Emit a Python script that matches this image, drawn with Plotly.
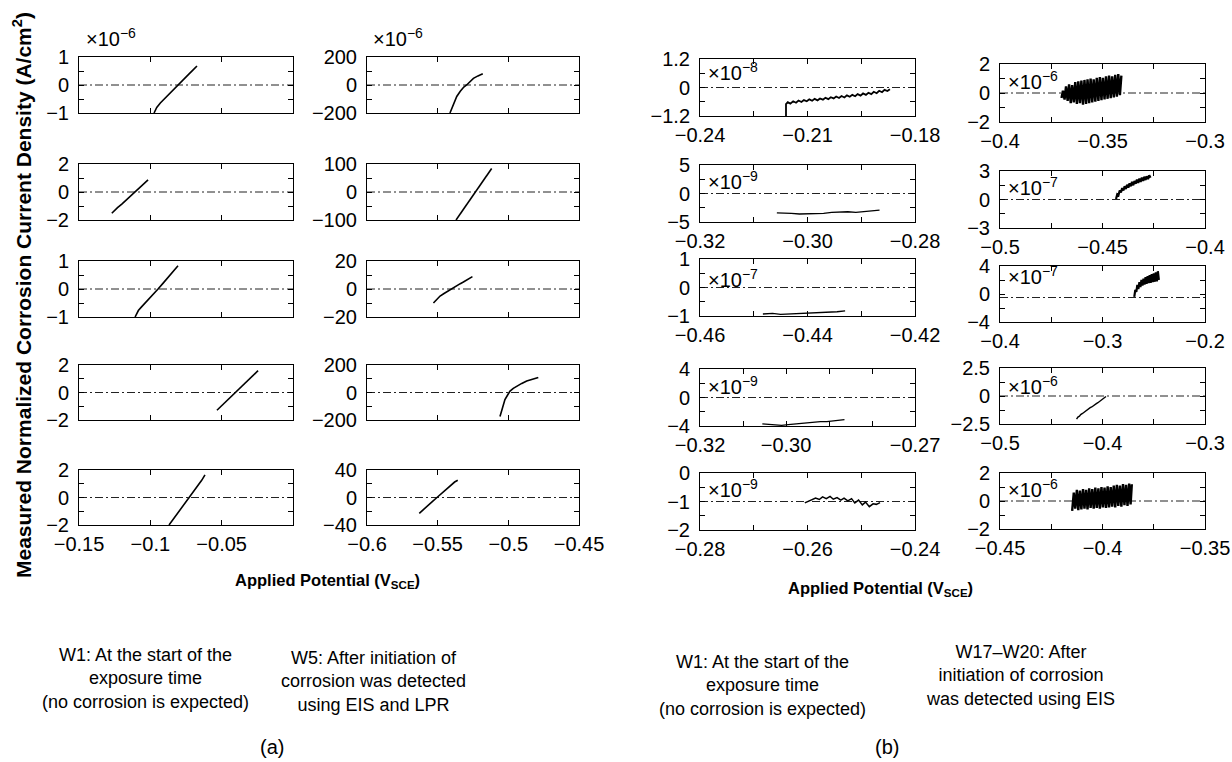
import plotly.graph_objects as go

W, H = 1232, 762
FONT = "Liberation Sans, Arial, Helvetica, sans-serif"
M = "\u2212"

# ---------------- (a) column W1 : potential (V) / current density (x1e-6 A/cm2) ----------------
a_w1_r1_x = [-0.0974, -0.0955, -0.0930, -0.0900, -0.0870, -0.0840, -0.0806, -0.0770, -0.0730, -0.0700, -0.0673]
a_w1_r1_y = [-1.00, -0.80, -0.64, -0.48, -0.33, -0.17, 0.00, 0.18, 0.39, 0.54, 0.68]
a_w1_r2_x = [-0.1270, -0.1255, -0.1230, -0.1200, -0.1170, -0.1140, -0.1110, -0.1080, -0.1050, -0.1016]
a_w1_r2_y = [-1.52, -1.36, -1.12, -0.86, -0.58, -0.29, 0.00, 0.27, 0.56, 0.86]
a_w1_r3_x = [-0.1107, -0.1095, -0.1084, -0.1060, -0.1030, -0.1000, -0.0970, -0.0946, -0.0910, -0.0880, -0.0850, -0.0806]
a_w1_r3_y = [-1.00, -0.86, -0.77, -0.63, -0.47, -0.30, -0.13, 0.00, 0.21, 0.39, 0.57, 0.83]
a_w1_r4_x = [-0.0533, -0.0500, -0.0470, -0.0440, -0.0407, -0.0370, -0.0340, -0.0310, -0.0280, -0.0245]
a_w1_r4_y = [-1.29, -0.96, -0.66, -0.36, -0.03, 0.34, 0.64, 0.94, 1.24, 1.59]
a_w1_r5_x = [-0.0869, -0.0840, -0.0810, -0.0780, -0.0750, -0.0726, -0.0700, -0.0670, -0.0640, -0.0617]
a_w1_r5_y = [-2.00, -1.59, -1.16, -0.72, -0.29, 0.00, 0.38, 0.81, 1.25, 1.65]

# ---------------- (a) column W5 ----------------
a_w5_r1_x = [-0.5413, -0.5395, -0.5380, -0.5365, -0.5340, -0.5315, -0.5295, -0.5270, -0.5247, -0.5215, -0.5181]
a_w5_r1_y = [-200, -160, -120, -82, -45, -15, 0, 25, 47, 65, 80]
a_w5_r2_x = [-0.5370, -0.5340, -0.5310, -0.5280, -0.5250, -0.5234, -0.5200, -0.5170, -0.5140, -0.5118]
a_w5_r2_y = [-100, -78, -56, -34, -12, 0, 25, 47, 69, 84]
a_w5_r3_x = [-0.5530, -0.5505, -0.5483, -0.5455, -0.5430, -0.5400, -0.5370, -0.5340, -0.5318, -0.5285, -0.5254]
a_w5_r3_y = [-10.0, -7.3, -5.0, -3.2, -1.6, 0.5, 2.1, 3.8, 5.0, 6.8, 8.8]
a_w5_r4_x = [-0.5059, -0.5047, -0.5035, -0.5024, -0.5005, -0.4988, -0.4965, -0.4941, -0.4905, -0.4870, -0.4830, -0.4788]
a_w5_r4_y = [-175, -126, -88, -52, -18, 10, 30, 47, 66, 84, 97, 109]
a_w5_r5_x = [-0.5630, -0.5600, -0.5570, -0.5540, -0.5505, -0.5470, -0.5440, -0.5410, -0.5380, -0.5358]
a_w5_r5_y = [-23, -17, -11.7, -6.3, 0, 6.3, 11.7, 17.1, 22.5, 25]

# ---------------- (b) column W1 ----------------
b_w1_r1_x = [-0.2160, -0.2160, -0.2155, -0.2148, -0.2140, -0.2132, -0.2125, -0.2117, -0.2110, -0.2102, -0.2095,
             -0.2087, -0.2080, -0.2072, -0.2065, -0.2057, -0.2050, -0.2042, -0.2035, -0.2027, -0.2020, -0.2012,
             -0.2005, -0.1997, -0.1990, -0.1982, -0.1975, -0.1967, -0.1960, -0.1952, -0.1945, -0.1937, -0.1930,
             -0.1922, -0.1915, -0.1907, -0.1900, -0.1892, -0.1885, -0.1877, -0.1870]
b_w1_r1_y = [-1.20, -0.70, -0.62, -0.68, -0.58, -0.64, -0.55, -0.61, -0.53, -0.58, -0.50,
             -0.56, -0.48, -0.54, -0.46, -0.51, -0.43, -0.49, -0.41, -0.46, -0.38, -0.44,
             -0.36, -0.42, -0.33, -0.39, -0.31, -0.37, -0.28, -0.34, -0.25, -0.31, -0.22,
             -0.28, -0.18, -0.24, -0.14, -0.20, -0.10, -0.15, -0.07]
b_w1_r2_x = [-0.3057, -0.3045, -0.3030, -0.3015, -0.3000, -0.2985, -0.2970, -0.2955, -0.2940, -0.2925, -0.2910, -0.2895, -0.2880, -0.2866]
b_w1_r2_y = [-3.4, -3.5, -3.5, -3.6, -3.6, -3.6, -3.5, -3.3, -3.2, -3.2, -3.3, -3.2, -3.1, -2.9]
b_w1_r3_x = [-0.4483, -0.4465, -0.4450, -0.4435, -0.4420, -0.4405, -0.4390, -0.4375, -0.4360, -0.4345, -0.4330]
b_w1_r3_y = [-0.93, -0.91, -0.94, -0.93, -0.92, -0.90, -0.88, -0.89, -0.86, -0.85, -0.82]
b_w1_r4_x = [-0.3055, -0.3040, -0.3025, -0.3010, -0.2995, -0.2980, -0.2965, -0.2950, -0.2935, -0.2920, -0.2905, -0.2890, -0.2875, -0.2864]
b_w1_r4_y = [-3.7, -3.8, -3.8, -3.9, -3.8, -3.7, -3.6, -3.5, -3.5, -3.4, -3.4, -3.3, -3.2, -3.1]
b_w1_r5_x = [-0.2605, -0.2598, -0.2592, -0.2585, -0.2578, -0.2572, -0.2565, -0.2558, -0.2552, -0.2545, -0.2538,
             -0.2532, -0.2525, -0.2518, -0.2512, -0.2505, -0.2498, -0.2492, -0.2485, -0.2478, -0.2472, -0.2465]
b_w1_r5_y = [-1.05, -1.00, -0.95, -0.88, -0.93, -0.84, -0.90, -0.82, -0.92, -0.86, -0.95,
             -0.88, -0.98, -0.90, -1.05, -0.95, -1.12, -1.02, -1.18, -1.08, -1.10, -1.04]

# ---------------- (b) column W17-W20 ----------------
b_w17_r1_x = [-0.3700, -0.3693, -0.3685, -0.3678, -0.3670, -0.3663, -0.3655, -0.3648, -0.3640, -0.3633,
              -0.3625, -0.3618, -0.3610, -0.3603, -0.3595, -0.3588, -0.3580, -0.3573, -0.3565, -0.3558,
              -0.3550, -0.3543, -0.3535, -0.3528, -0.3520, -0.3513, -0.3505, -0.3498, -0.3490, -0.3483,
              -0.3475, -0.3468, -0.3460, -0.3453, -0.3445, -0.3438, -0.3430, -0.3423, -0.3415, -0.3408]
b_w17_r1_y = [-0.35, 0.15, -0.45, 0.45, -0.55, 0.60, -0.70, 0.55, -0.65, 0.75,
              -0.75, 0.80, -0.70, 0.85, -0.80, 0.90, -0.75, 0.95, -0.70, 1.00,
              -0.65, 0.95, -0.60, 1.05, -0.55, 1.10, -0.50, 1.05, -0.45, 1.15,
              -0.40, 1.20, -0.35, 1.15, -0.30, 1.25, -0.25, 1.30, -0.15, 1.20]
b_w17_r2_x = [-0.4434, -0.4428, -0.4422, -0.4416, -0.4410, -0.4404, -0.4398, -0.4392, -0.4386, -0.4380,
              -0.4374, -0.4368, -0.4362, -0.4356, -0.4350, -0.4344, -0.4338, -0.4332, -0.4326, -0.4320,
              -0.4314, -0.4308, -0.4302, -0.4296, -0.4290, -0.4284, -0.4278, -0.4272, -0.4266]
b_w17_r2_y = [0.05, 0.55, 0.45, 0.95, 0.75, 1.20, 0.95, 1.40, 1.10, 1.55,
              1.25, 1.70, 1.40, 1.85, 1.50, 1.95, 1.65, 2.10, 1.75, 2.20,
              1.85, 2.30, 1.95, 2.40, 2.05, 2.45, 2.15, 2.55, 2.30]
b_w17_r3_x = [-0.2690, -0.2680, -0.2670, -0.2660, -0.2650, -0.2640, -0.2630, -0.2620, -0.2610, -0.2600,
              -0.2590, -0.2580, -0.2570, -0.2560, -0.2550, -0.2540, -0.2530, -0.2520, -0.2510, -0.2500,
              -0.2490, -0.2480, -0.2470, -0.2460, -0.2450]
b_w17_r3_y = [-0.40, 0.60, 0.30, 1.30, 0.70, 1.70, 1.00, 2.00, 1.20, 2.20,
              1.35, 2.40, 1.45, 2.55, 1.55, 2.70, 1.60, 2.85, 1.70, 2.95,
              1.75, 3.10, 1.80, 3.25, 2.00]
b_w17_r4_x = [-0.4253, -0.4240, -0.4225, -0.4213, -0.4195, -0.4180, -0.4165, -0.4151, -0.4135, -0.4120,
              -0.4105, -0.4090, -0.4075, -0.4060, -0.4045, -0.4028, -0.4010, -0.3995, -0.3980, -0.3966]
b_w17_r4_y = [-2.06, -1.88, -1.80, -1.66, -1.56, -1.44, -1.36, -1.22, -1.16, -1.04,
              -0.98, -0.86, -0.80, -0.68, -0.60, -0.48, -0.38, -0.26, -0.16, -0.04]
b_w17_r5_x = [-0.4148, -0.4140, -0.4133, -0.4125, -0.4118, -0.4110, -0.4103, -0.4095, -0.4088, -0.4080,
              -0.4073, -0.4065, -0.4058, -0.4050, -0.4043, -0.4035, -0.4028, -0.4020, -0.4013, -0.4005,
              -0.3998, -0.3990, -0.3983, -0.3975, -0.3968, -0.3960, -0.3953, -0.3945, -0.3938, -0.3930,
              -0.3923, -0.3915, -0.3908, -0.3900, -0.3893, -0.3885, -0.3878, -0.3870, -0.3863, -0.3857]
b_w17_r5_y = [-0.70, 0.60, -0.55, 0.80, -0.65, 0.75, -0.60, 0.85, -0.55, 0.80,
              -0.60, 0.90, -0.50, 0.85, -0.55, 0.95, -0.50, 0.90, -0.55, 1.00,
              -0.45, 0.95, -0.50, 1.05, -0.45, 1.00, -0.40, 1.10, -0.45, 1.15,
              -0.35, 1.10, -0.40, 1.20, -0.30, 1.15, -0.35, 1.25, -0.25, 1.20]

# ---------------- axis ranges / ticks ----------------
a1_xticks = [-0.15, -0.1, -0.05, 0.0]
a1_xlabels = [M + "0.15", M + "0.1", M + "0.05", ""]
a2_xticks = [-0.6, -0.55, -0.5, -0.45]
a2_xlabels = [M + "0.6", M + "0.55", M + "0.5", M + "0.45"]
b1_xticks = [[-0.24, -0.225, -0.21, -0.195, -0.18],
             [-0.32, -0.31, -0.30, -0.29, -0.28],
             [-0.46, -0.45, -0.44, -0.43, -0.42],
             [-0.32, -0.31, -0.30, -0.29, -0.28, -0.27],
             [-0.28, -0.27, -0.26, -0.25, -0.24]]
b1_xlabels = [[M + "0.24", "", M + "0.21", "", M + "0.18"],
              [M + "0.32", "", M + "0.30", "", M + "0.28"],
              [M + "0.46", "", M + "0.44", "", M + "0.42"],
              [M + "0.32", "", M + "0.30", "", "", M + "0.27"],
              [M + "0.28", "", M + "0.26", "", M + "0.24"]]
b2_xticks = [[-0.4, -0.375, -0.35, -0.325, -0.3],
             [-0.5, -0.475, -0.45, -0.425, -0.4],
             [-0.4, -0.35, -0.3, -0.25, -0.2],
             [-0.5, -0.45, -0.4, -0.35, -0.3],
             [-0.45, -0.425, -0.4, -0.375, -0.35]]
b2_xlabels = [[M + "0.4", "", M + "0.35", "", M + "0.3"],
              [M + "0.5", "", M + "0.45", "", M + "0.4"],
              [M + "0.4", "", M + "0.3", "", M + "0.2"],
              [M + "0.5", "", M + "0.4", "", M + "0.3"],
              [M + "0.45", "", M + "0.4", "", M + "0.35"]]

a1_ylim = [1, 2, 1, 2, 2]
a2_ylim = [200, 100, 20, 200, 40]
b1_ylim = [1.2, 5, 1, 4, None]
b2_ylim = [2, 3, 4, 2.5, 2]
b1_exps = ["8", "9", "7", "9", "9"]
b2_exps = ["6", "7", "7", "6", "6"]

# ---------------- layout geometry (pixels) ----------------
COL_A1 = (79, 293)
COL_A2 = (367, 579)
COL_B1 = (700, 915)
COL_B2 = (1000, 1205)
ROWS_A = [(57, 113), (164, 220), (261, 317), (365, 420), (470, 525)]
ROWS_B1 = [(59, 116), (165, 222), (259, 316), (369, 426), (473, 530)]
ROWS_B2 = [(64, 122), (171, 228), (266, 322), (368, 424), (473, 529)]
EXP_OFF_B1 = [12, 15, 19, 16, 15]
EXP_OFF_B2 = [16, 15, 9, 17, 15]


def lab(v):
    s = ("%g" % abs(v))
    return (M + s) if v < 0 else s


def sym_ticks(lim):
    vals = [-lim, -lim / 2, 0, lim / 2, lim]
    return vals, [lab(-lim), "", "0", "", lab(lim)]


panels = []
a1_data = [(a_w1_r1_x, a_w1_r1_y), (a_w1_r2_x, a_w1_r2_y), (a_w1_r3_x, a_w1_r3_y),
           (a_w1_r4_x, a_w1_r4_y), (a_w1_r5_x, a_w1_r5_y)]
a2_data = [(a_w5_r1_x, a_w5_r1_y), (a_w5_r2_x, a_w5_r2_y), (a_w5_r3_x, a_w5_r3_y),
           (a_w5_r4_x, a_w5_r4_y), (a_w5_r5_x, a_w5_r5_y)]
b1_data = [(b_w1_r1_x, b_w1_r1_y), (b_w1_r2_x, b_w1_r2_y), (b_w1_r3_x, b_w1_r3_y),
           (b_w1_r4_x, b_w1_r4_y), (b_w1_r5_x, b_w1_r5_y)]
b2_data = [(b_w17_r1_x, b_w17_r1_y), (b_w17_r2_x, b_w17_r2_y), (b_w17_r3_x, b_w17_r3_y),
           (b_w17_r4_x, b_w17_r4_y), (b_w17_r5_x, b_w17_r5_y)]
b1_lw = [1.8, 1.3, 1.3, 1.3, 1.5]
b2_lw = [2.4, 2.2, 2.2, 1.4, 2.4]

for r in range(5):
    yv, yt = sym_ticks(a1_ylim[r])
    panels.append(dict(d=a1_data[r], col=COL_A1, row=ROWS_A[r], xr=[-0.15, 0.0], xv=a1_xticks,
                       xt=a1_xlabels if r == 4 else [""] * 4, yr=[-a1_ylim[r], a1_ylim[r]], yv=yv, yt=yt,
                       ref=0, lw=1.6, exp=None))
for r in range(5):
    yv, yt = sym_ticks(a2_ylim[r])
    panels.append(dict(d=a2_data[r], col=COL_A2, row=ROWS_A[r], xr=[-0.6, -0.45], xv=a2_xticks,
                       xt=a2_xlabels if r == 4 else [""] * 4, yr=[-a2_ylim[r], a2_ylim[r]], yv=yv, yt=yt,
                       ref=0, lw=1.6, exp=None))
for r in range(5):
    if b1_ylim[r] is None:
        yv, yt, yr, ref = [-2, -1.5, -1, -0.5, 0], [M + "2", "", M + "1", "", "0"], [-2, 0], -1
    else:
        yv, yt = sym_ticks(b1_ylim[r])
        yr, ref = [-b1_ylim[r], b1_ylim[r]], 0
    xt = b1_xticks[r]
    panels.append(dict(d=b1_data[r], col=COL_B1, row=ROWS_B1[r], xr=[xt[0], xt[-1]], xv=xt,
                       xt=b1_xlabels[r], yr=yr, yv=yv, yt=yt, ref=ref, lw=b1_lw[r],
                       exp=(b1_exps[r], EXP_OFF_B1[r])))
for r in range(5):
    yv, yt = sym_ticks(b2_ylim[r])
    xt = b2_xticks[r]
    panels.append(dict(d=b2_data[r], col=COL_B2, row=ROWS_B2[r], xr=[xt[0], xt[-1]], xv=xt,
                       xt=b2_xlabels[r], yr=[-b2_ylim[r], b2_ylim[r]], yv=yv, yt=yt,
                       ref=-0.5 if r == 2 else 0, lw=b2_lw[r], exp=(b2_exps[r], EXP_OFF_B2[r])))

fig = go.Figure()
lay = {}
annotations = []
tickfont = dict(family=FONT, size=20, color="black")

for i, p in enumerate(panels, start=1):
    sfx = "" if i == 1 else str(i)
    xa, ya = "x" + sfx, "y" + sfx
    fig.add_trace(go.Scatter(x=p["xr"], y=[p["ref"], p["ref"]], mode="lines",
                             line=dict(color="#222222", width=1, dash="8px,3px,2px,3px"),
                             xaxis=xa, yaxis=ya, showlegend=False, hoverinfo="skip"))
    x, y = p["d"]
    fig.add_trace(go.Scatter(x=x, y=y, mode="lines", line=dict(color="black", width=p["lw"]),
                             xaxis=xa, yaxis=ya, showlegend=False))
    c0, c1 = p["col"]
    r0, r1 = p["row"]
    common = dict(ticks="inside", ticklen=5, tickcolor="black", tickwidth=1, showline=True,
                  linecolor="black", linewidth=1, mirror="ticks", showgrid=False, zeroline=False,
                  tickfont=tickfont, tickmode="array", fixedrange=True, automargin=False,
                  ticklabeloverflow="allow")
    lay["xaxis" + sfx] = dict(domain=[c0 / W, c1 / W], anchor=ya, range=p["xr"], tickvals=p["xv"],
                              ticktext=p["xt"], ticklabelstandoff=1, **common)
    lay["yaxis" + sfx] = dict(domain=[1 - r1 / H, 1 - r0 / H], anchor=xa, range=p["yr"], tickvals=p["yv"],
                              ticktext=p["yt"], ticklabelstandoff=5, **common)
    if p["exp"] is not None:
        e, off = p["exp"]
        annotations.append(dict(xref="paper", yref="paper", x=(c0 + 6) / W, y=1 - (r0 + off) / H,
                                xanchor="left", yanchor="middle", showarrow=False,
                                text="\u00d710<sup>" + M + e + "</sup>", font=tickfont))

# exponent labels above column (a)
for cx in (COL_A1[0] + 5, COL_A2[0] + 4):
    annotations.append(dict(xref="paper", yref="paper", x=cx / W, y=1 - 38 / H, xanchor="left",
                            yanchor="middle", showarrow=False, text="\u00d710<sup>" + M + "6</sup>",
                            font=tickfont))

bold = dict(family=FONT, size=16.5, color="black")
annotations.append(dict(xref="paper", yref="paper", x=22 / W, y=1 - 295 / H, textangle=-90,
                        showarrow=False, xanchor="center", yanchor="middle",
                        text="<b>Measured Normalized Corrosion Current Density (A/cm<sup>2</sup>)</b>",
                        font=dict(family=FONT, size=21, color="black")))
annotations.append(dict(xref="paper", yref="paper", x=327 / W, y=1 - 581 / H, showarrow=False,
                        xanchor="center", yanchor="middle",
                        text="<b>Applied Potential (V<sub>SCE</sub>)</b>", font=bold))
annotations.append(dict(xref="paper", yref="paper", x=880 / W, y=1 - 589 / H, showarrow=False,
                        xanchor="center", yanchor="middle",
                        text="<b>Applied Potential (V<sub>SCE</sub>)</b>", font=bold))

cap = dict(family=FONT, size=18, color="black")
captions = [
    (145, 678, "W1: At the start of the<br>exposure time<br>(no corrosion is expected)"),
    (373, 681, "W5: After initiation of<br>corrosion was detected<br>using EIS and LPR"),
    (762, 685, "W1: At the start of the<br>exposure time<br>(no corrosion is expected)"),
    (1020, 675, "W17\u2013W20: After<br>initiation of corrosion<br>was detected using EIS"),
]
for cx, cy, t in captions:
    annotations.append(dict(xref="paper", yref="paper", x=cx / W, y=1 - cy / H, showarrow=False,
                            xanchor="center", yanchor="middle", align="center", text=t, font=cap))
annotations.append(dict(xref="paper", yref="paper", x=272 / W, y=1 - 747 / H, showarrow=False,
                        xanchor="center", yanchor="middle", text="(a)", font=dict(family=FONT, size=20)))
annotations.append(dict(xref="paper", yref="paper", x=887 / W, y=1 - 747 / H, showarrow=False,
                        xanchor="center", yanchor="middle", text="(b)", font=dict(family=FONT, size=20)))

fig.update_layout(width=W, height=H, autosize=False, margin=dict(l=0, r=0, t=0, b=0),
                  paper_bgcolor="white", plot_bgcolor="white", showlegend=False,
                  font=dict(family=FONT, color="black"), annotations=annotations, **lay)
fig.write_html("out.html")
